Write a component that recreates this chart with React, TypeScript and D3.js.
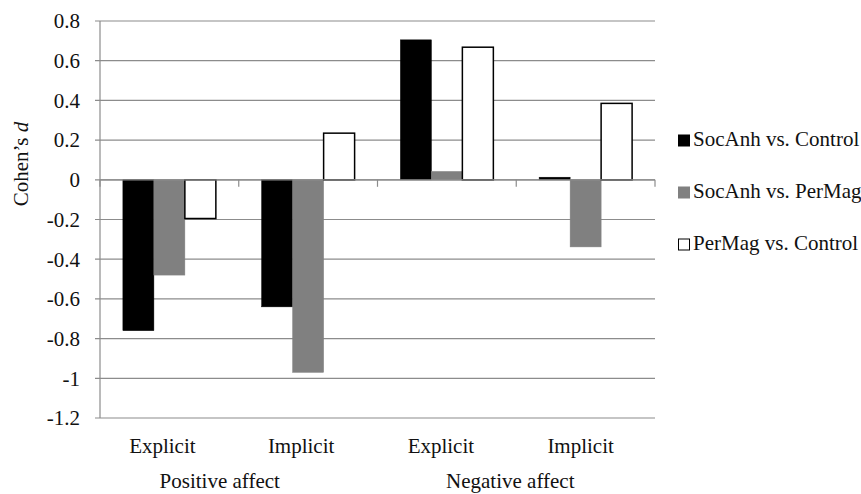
import React from "react";
import * as d3 from "d3";

const categories = ["Explicit", "Implicit", "Explicit", "Implicit"];
const groups = ["Positive affect", "Negative affect"];
const seriesNames = ["SocAnh vs. Control", "SocAnh vs. PerMag", "PerMag vs. Control"];
const socAnhVsControl = [-0.76, -0.64, 0.705, 0.013];
const socAnhVsPerMag = [-0.48, -0.97, 0.042, -0.338];
const perMagVsControl = [-0.195, 0.235, 0.668, 0.385];
const yTicks = [0.8, 0.6, 0.4, 0.2, 0, -0.2, -0.4, -0.6, -0.8, -1, -1.2];

const seriesValues = [socAnhVsControl, socAnhVsPerMag, perMagVsControl];
const fills = ["#000000", "#808080", "#ffffff"];
const strokes = ["#000000", "#808080", "#000000"];

const W = 861;
const H = 494;
const FONT = "Liberation Serif, DejaVu Serif, serif";

export default function App() {
  const left = 100;
  const right = 655;
  const top = 21;
  const bottom = 418;

  const y = d3.scaleLinear().domain([-1.2, 0.8]).range([bottom, top]);
  const x = d3
    .scaleBand<number>()
    .domain(categories.map((_, i) => i))
    .range([left, right])
    .padding(0);
  const bw = x.bandwidth();
  const groupW = bw * 0.67;
  const xs = d3
    .scaleBand<number>()
    .domain(seriesNames.map((_, i) => i))
    .range([(bw - groupW) / 2, (bw + groupW) / 2])
    .padding(0);

  const y0 = y(0);
  const gridColor = "#8c8c8c";
  const fmt = (v: number) => (v === 0 ? "0" : String(v));
  const ts: React.CSSProperties = { fontFamily: FONT, fontSize: "21px" };

  const boundaries = categories.map((_, i) => x(i)!).concat([right]);

  const groupSpan = 2;
  const groupLabelOffset = [-19, -6];
  const catLabelOffset = [-7, -7, -6, -5];

  return (
    <svg
      width={W}
      height={H}
      style={{ position: "absolute", left: 0, top: 0, background: "#fff" }}
    >
      <rect x={0} y={0} width={W} height={H} fill="#fff" />
      {yTicks.map((t) => (
        <line
          key={"g" + t}
          x1={left - 5}
          x2={right}
          y1={y(t)}
          y2={y(t)}
          stroke={gridColor}
          strokeWidth={1.2}
        />
      ))}
      <line x1={left} x2={left} y1={top} y2={bottom} stroke={gridColor} strokeWidth={1.2} />
      {yTicks.map((t) => (
        <text
          key={"t" + t}
          x={left - 20}
          y={y(t)}
          dy="0.35em"
          textAnchor="end"
          style={ts}
          fill="#111"
        >
          {fmt(t)}
        </text>
      ))}
      {categories.map((_, ci) =>
        seriesValues.map((vals, si) => {
          const v = vals[ci];
          const bx = x(ci)! + xs(si)!;
          const by = Math.min(y(v), y0);
          const bh = Math.abs(y(v) - y0);
          return (
            <rect
              key={ci + "-" + si}
              x={bx}
              y={by}
              width={xs.bandwidth()}
              height={bh}
              fill={fills[si]}
              stroke={strokes[si]}
              strokeWidth={si === 2 ? 1.5 : 0.5}
            />
          );
        })
      )}
      <line x1={left} x2={right} y1={y0} y2={y0} stroke={gridColor} strokeWidth={1.2} />
      {boundaries.map((bx, i) => (
        <line
          key={"xt" + i}
          x1={bx}
          x2={bx}
          y1={y0}
          y2={y0 + 7}
          stroke={gridColor}
          strokeWidth={1.2}
        />
      ))}
      {categories.map((c, i) => (
        <text
          key={"c" + i}
          x={x(i)! + bw / 2 + catLabelOffset[i]}
          y={453}
          textAnchor="middle"
          style={ts}
          fill="#111"
        >
          {c}
        </text>
      ))}
      {groups.map((g, gi) => (
        <text
          key={"grp" + gi}
          x={(x(gi * groupSpan)! + x(gi * groupSpan + groupSpan - 1)! + bw) / 2 + groupLabelOffset[gi]}
          y={488}
          textAnchor="middle"
          style={ts}
          fill="#111"
        >
          {g}
        </text>
      ))}
      <text
        transform={`translate(28, 164) rotate(-90)`}
        textAnchor="middle"
        style={ts}
        fill="#111"
      >
        Cohen’s <tspan fontStyle="italic">d</tspan>
      </text>
      {seriesNames.map((s, i) => (
        <g key={"l" + i} transform={`translate(678, ${146 + i * 52})`}>
          <rect
            x={0.5}
            y={-11}
            width={11}
            height={11}
            fill={fills[i]}
            stroke={strokes[i]}
            strokeWidth={1}
          />
          <text x={15} y={0} style={ts} fill="#111">
            {s}
          </text>
        </g>
      ))}
    </svg>
  );
}
